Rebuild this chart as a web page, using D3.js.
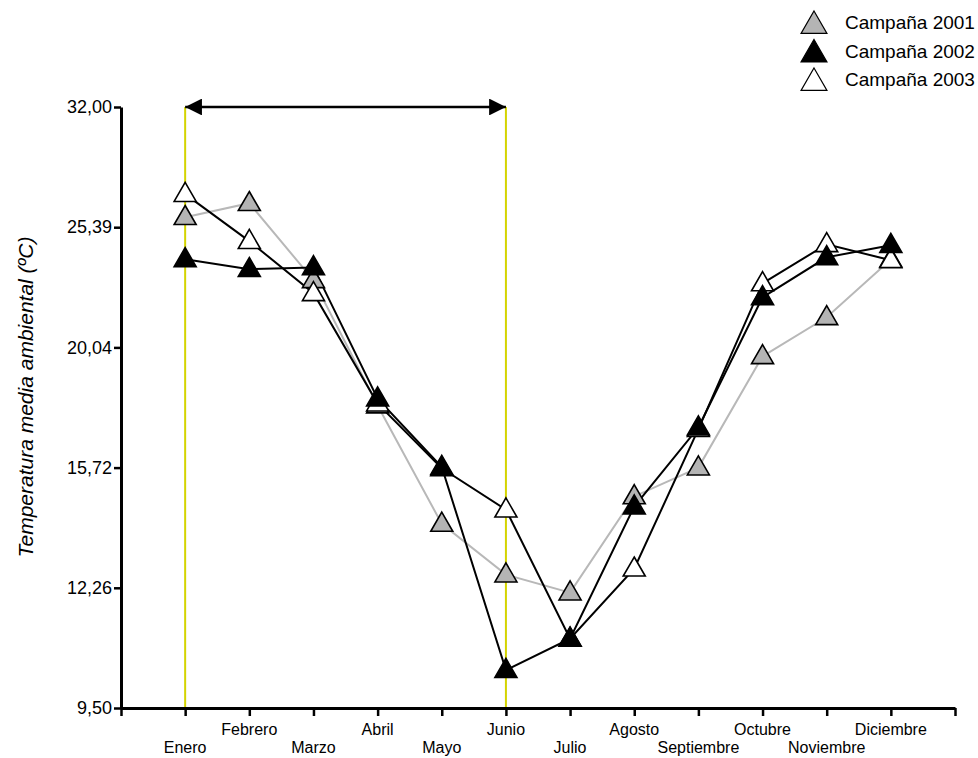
<!DOCTYPE html>
<html>
<head>
<meta charset="utf-8">
<script src="https://cdn.jsdelivr.net/npm/d3@7"></script>
<style>
  body { margin: 0; background: #fff; }
  svg { font-family: "Liberation Sans", Arial, sans-serif; }
</style>
</head>
<body>
<script>
const months = ["Enero", "Febrero", "Marzo", "Abril", "Mayo", "Junio", "Julio",
                "Agosto", "Septiembre", "Octubre", "Noviembre", "Diciembre"];
const yTicks = [9.50, 12.26, 15.72, 20.04, 25.39, 32.00];
const camp2001 = [25.94, 26.71, 23.03, 17.95, 14.10, 12.64, 12.15, 14.89, 15.72, 19.72, 21.38, 23.95];
const camp2002 = [23.96, 23.52, 23.60, 18.20, 15.74, 10.37, 11.09, 14.60, 17.16, 22.27, 24.05, 24.59];
const camp2003 = [27.21, 24.77, 22.45, 18.02, 15.70, 14.51, 11.09, 12.81, 17.10, 22.89, 24.63, 23.92];
const seriesNames = ["Campaña 2001", "Campaña 2002", "Campaña 2003"];
const markedRange = ["Enero", "Junio"];

const width = 978, height = 758;
const margin = {top: 107, right: 23, bottom: 50, left: 121};

const svg = d3.select("body").append("svg")
    .attr("width", width)
    .attr("height", height);

const x = d3.scaleLinear()
    .domain([0, months.length + 1])
    .range([margin.left, width - margin.right]);

// the axis spaces its ticks evenly, so map piecewise between them
const plotH = height - margin.bottom - margin.top;
const y = d3.scaleLinear()
    .domain(yTicks)
    .range(yTicks.map((d, i) => height - margin.bottom - i * plotH / (yTicks.length - 1)));

const comma = v => d3.format(".2f")(v).replace(".", ",");

// yellow guide lines
markedRange.forEach(m => {
  const xi = x(months.indexOf(m) + 1);
  svg.append("line")
    .attr("x1", xi).attr("x2", xi)
    .attr("y1", y(32)).attr("y2", y(9.5))
    .attr("stroke", "#d4d400").attr("stroke-width", 2);
});

// double arrow between the guides
const defs = svg.append("defs");
defs.append("marker")
    .attr("id", "ahead")
    .attr("viewBox", "0 0 10 10")
    .attr("refX", 10).attr("refY", 5)
    .attr("markerWidth", 7).attr("markerHeight", 7)
    .attr("markerUnits", "strokeWidth")
    .attr("orient", "auto-start-reverse")
  .append("path")
    .attr("d", "M0,0L10,5L0,10z")
    .attr("fill", "#000");

svg.append("line")
    .attr("x1", x(months.indexOf(markedRange[0]) + 1))
    .attr("x2", x(months.indexOf(markedRange[1]) + 1))
    .attr("y1", y(32)).attr("y2", y(32))
    .attr("stroke", "#000").attr("stroke-width", 2.4)
    .attr("marker-start", "url(#ahead)")
    .attr("marker-end", "url(#ahead)");

// axes
const yAxis = svg.append("g")
    .attr("transform", "translate(" + margin.left + ",0)")
    .call(d3.axisLeft(y).tickValues(yTicks).tickFormat(comma).tickSize(7).tickSizeOuter(0));
yAxis.attr("font-family", null).attr("font-size", null);
yAxis.select(".domain").attr("stroke-width", 3);
yAxis.selectAll(".tick line").attr("stroke-width", 2.5);
yAxis.selectAll("text").attr("font-size", 18).attr("fill", "#000").attr("dx", 1);

const xAxis = svg.append("g")
    .attr("transform", "translate(0," + (height - margin.bottom) + ")")
    .call(d3.axisBottom(x).tickValues(d3.range(0, months.length + 2)).tickFormat("").tickSize(8).tickSizeOuter(0));
xAxis.select(".domain").attr("stroke-width", 3);
xAxis.selectAll(".tick line").attr("stroke-width", 2.5);

svg.append("g").selectAll("text")
  .data(months)
  .enter().append("text")
    .attr("x", (d, i) => x(i + 1))
    .attr("y", (d, i) => i % 2 === 0 ? 753 : 735)
    .attr("text-anchor", "middle")
    .attr("font-size", 16)
    .text(d => d);

svg.append("text")
    .attr("transform", "translate(33,397) rotate(-90)")
    .attr("text-anchor", "middle")
    .attr("font-size", 21)
    .attr("font-style", "italic")
    .text("Temperatura media ambiental (ºC)");

// series
const series = [
  {name: seriesNames[0], values: camp2001, line: "#b8b8b8", fill: "#b4b4b4"},
  {name: seriesNames[2], values: camp2003, line: "#000", fill: "#fff"},
  {name: seriesNames[1], values: camp2002, line: "#000", fill: "#000"}
];

const line = d3.line()
    .x((d, i) => x(i + 1))
    .y(d => y(d));

const tri = d3.symbol().type(d3.symbolTriangle).size(210);

series.forEach(s => {
  svg.append("path")
    .datum(s.values)
    .attr("d", line)
    .attr("fill", "none")
    .attr("stroke", s.line)
    .attr("stroke-width", 2);
});

series.forEach(s => {
  svg.append("g").selectAll("path")
    .data(s.values)
    .enter().append("path")
      .attr("d", tri)
      .attr("transform", (d, i) => "translate(" + x(i + 1) + "," + (y(d) + 1) + ")")
      .attr("fill", s.fill)
      .attr("stroke", "#000")
      .attr("stroke-width", 1.6);
});

// legend
const legendFill = {"Campaña 2001": "#b4b4b4", "Campaña 2002": "#000", "Campaña 2003": "#fff"};
const legend = svg.append("g").attr("transform", "translate(814,26)");
seriesNames.forEach((n, i) => {
  legend.append("path")
    .attr("d", d3.symbol().type(d3.symbolTriangle).size(290))
    .attr("transform", "translate(0," + (i * 28.5) + ")")
    .attr("fill", legendFill[n])
    .attr("stroke", "#000")
    .attr("stroke-width", 1.2);
  legend.append("text")
    .attr("x", 31)
    .attr("y", i * 28.5 + 3)
    .attr("font-size", 19)
    .text(n);
});
</script>
</body>
</html>
